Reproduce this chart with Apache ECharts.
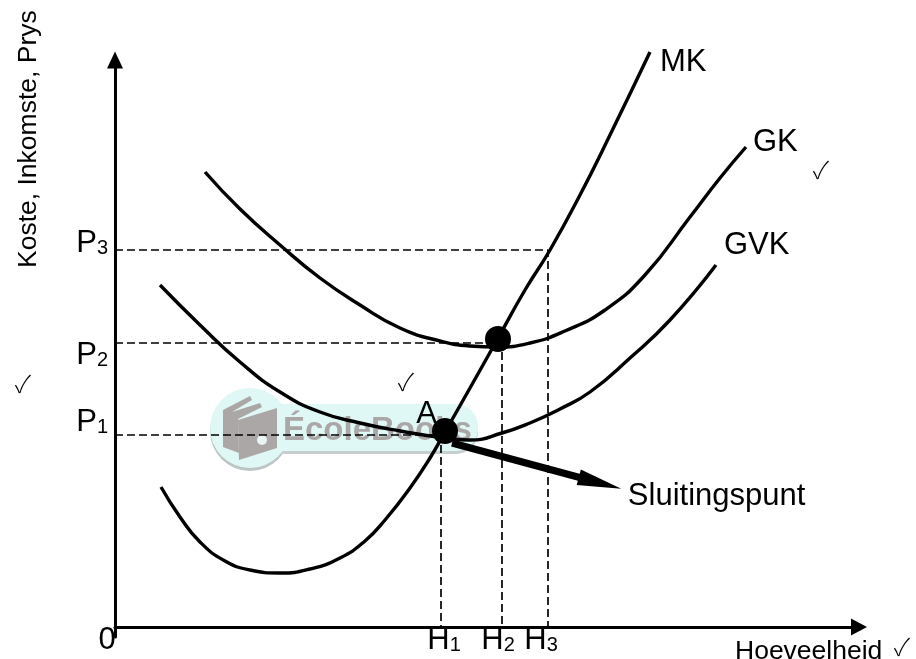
<!DOCTYPE html>
<html>
<head>
  <meta charset="utf-8">
  <title>Sluitingspunt</title>
  <script src="https://cdn.jsdelivr.net/npm/echarts@6/dist/echarts.min.js"></script>
  <style>html,body{margin:0;padding:0;background:#fff}</style>
</head>
<body>
<div id="chartmain" style="width:916px;height:659px;"></div>
<script>
  // curves, [quantity, price]
  var mk = [[46,140],[65,110],[85,85],[110,66],[135,57],[165,54],[195,58],[225,69],[250,86],[270,107],[295,139],[315,169],[330,195],[355,239],[382,287],[410,337],[435,377],[465,432],[495,492],[535,575]];
  var gk = [[90,455],[125,418],[165,382],[205,349],[245,322],[285,299],[325,286],[355,281],[382,280],[415,284],[450,296],[490,317],[530,352],[575,410],[605,449],[631,480]];
  var gvk = [[45,342],[85,302],[125,265],[165,235],[205,215],[245,204],[285,196],[330,189],[355,187],[387,194],[415,204],[445,218],[475,235],[515,269],[555,307],[601,362]];

  var hLevels = [326, 387, 433];
  var pLevels = [192, 284, 377];
  var hLabels = ['1', '2', '3'];
  var pLabels = ['1', '2', '3'];
  var dots = [[330, 196], [383, 288]];
  var shutArrow = [[337, 184], [485, 144]];

  // where the tick texts sit, they are not centred on the guides in the original
  var hLabelAt = [0, 329, 383, 426];
  var pLabelAt = [200, 267, 379];

  var font = '"Liberation Sans", Arial, sans-serif';

  function guide(i) {
    return {
      type: 'line', silent: true, showSymbol: false, z: 1,
      data: [[0, pLevels[i]], [hLevels[i], pLevels[i]], [hLevels[i], 0]],
      lineStyle: {color: '#000', width: 1.7, type: [8, 4]}
    };
  }
  function curve(name, data, offset) {
    return {
      type: 'line', name: name, data: data, smooth: true, showSymbol: false, clip: false, z: 3,
      lineStyle: {color: '#000', width: 3.4},
      endLabel: {show: true, formatter: name, offset: offset, color: '#000', fontFamily: font, fontSize: 31}
    };
  }
  function txt(text, x, y, size, extra) {
    var o = {type: 'text', x: x, y: y, z: 5, style: {text: text, fontFamily: font, fontSize: size, fill: '#000', textVerticalAlign: 'middle'}};
    for (var k in extra) o[k] = extra[k];
    return o;
  }
  function check(x, y) {
    return {type: 'text', x: x, y: y, z: 5, style: {text: '\u2713', fontFamily: '"Noto Sans CJK SC", "DejaVu Sans"', fontWeight: 300, fontSize: 24, fill: '#000', textAlign: 'center', textVerticalAlign: 'middle'}};
  }
  var grey = '#aca7a7';

  var option = {
    animation: false,
    backgroundColor: '#fff',
    grid: {left: 115, top: 60, width: 744, height: 577, outerBoundsMode: 'none'},
    xAxis: {
      type: 'value', min: 0, max: 744,
      splitLine: {show: false}, axisTick: {show: false},
      axisLine: {onZero: true, symbol: ['none', 'triangle'], symbolSize: [17, 16], lineStyle: {color: '#000', width: 3}},
      axisLabel: {
        showMinLabel: true, customValues: hLabelAt, margin: -9, color: '#000',
        formatter: function (v) {
          var i = hLabelAt.indexOf(v);
          if (i === 0) return '{h|0}{gap|}';
          return '{h|H}{s|' + hLabels[i - 1] + '}';
        },
        rich: {
          h: {fontFamily: font, fontSize: 31, lineHeight: 34, padding: [0, 0, 10, 0]},
          s: {fontFamily: font, fontSize: 20, lineHeight: 10},
          gap: {width: 16}
        }
      }
    },
    yAxis: {
      type: 'value', min: -10, max: 567,
      splitLine: {show: false}, axisTick: {show: false},
      axisLine: {symbol: ['none', 'triangle'], symbolSize: [16, 17], lineStyle: {color: '#000', width: 3}},
      axisLabel: {
        customValues: pLabelAt, margin: 7, color: '#000',
        formatter: function (v) {
          return '{p|P}{s|' + pLabels[pLabelAt.indexOf(v)] + '}';
        },
        rich: {
          p: {fontFamily: font, fontSize: 31, lineHeight: 34, padding: [0, 0, 10, 0]},
          s: {fontFamily: font, fontSize: 20, lineHeight: 10}
        }
      }
    },
    graphic: [
      // EcoleBooks watermark behind the chart
      {type: 'circle', z: -3, shape: {cx: 250, cy: 431, r: 40}, style: {fill: '#bcc4c4'}},
      {type: 'rect', z: -3, shape: {x: 250, y: 407, width: 228, height: 47, r: 22}, style: {fill: '#c6cfcf'}},
      {type: 'rect', z: -2, shape: {x: 250, y: 404, width: 228, height: 47, r: 22}, style: {fill: '#dff8f6'}},
      {type: 'circle', z: -2, shape: {cx: 250, cy: 428, r: 40}, style: {fill: '#dff8f6'}},
      {type: 'polygon', z: -1, shape: {points: [[223, 410], [250, 396], [252, 400], [232, 412], [260, 403], [262, 407], [238, 419], [239, 453], [223, 447]]}, style: {fill: grey}},
      {type: 'polygon', z: -1, shape: {points: [[238, 420], [277, 408], [277, 448], [239, 460]]}, style: {fill: grey}},
      {type: 'circle', z: -1, shape: {cx: 262, cy: 440, r: 5}, style: {fill: '#e8f5f4'}},
      {type: 'text', z: -1, x: 283, y: 431, style: {text: '\u00c9coleBooks', fontFamily: font, fontWeight: 'bold', fontSize: 33, fill: grey, textVerticalAlign: 'middle'}},

      txt('Koste, Inkomste, Prys', 29, 268, 26.5, {rotation: Math.PI / 2}),
      txt('Hoeveelheid', 735, 652, 26.5),
      check(902, 647),
      check(821, 170),
      check(406, 382),
      check(23, 384)
    ],
    series: [
      guide(0), guide(1), guide(2),
      curve('MK', mk, [2, 10]),
      curve('GK', gk, [-1, -5]),
      curve('GVK', gvk, [0, -20]),
      {
        type: 'lines', coordinateSystem: 'cartesian2d', z: 4, polyline: false,
        data: [{coords: shutArrow}],
        symbol: ['none', 'triangle'], symbolSize: [[1, 1], [16, 44]],
        lineStyle: {color: '#000', width: 7, opacity: 1},
        label: {show: true, position: 'end', formatter: 'Sluitingspunt', distance: 5, offset: [23, 12], color: '#000', fontFamily: font, fontSize: 31, align: 'left'}
      },
      {
        type: 'scatter', z: 5, symbolSize: 26, clip: false,
        itemStyle: {color: '#000', opacity: 1},
        data: [
          {value: dots[0], label: {show: true, formatter: 'A', position: 'left', offset: [10, -17], color: '#000', fontFamily: font, fontSize: 31}},
          {value: dots[1]}
        ]
      }
    ]
  };
  var myChart = echarts.init(document.getElementById('chartmain'));
  myChart.setOption(option);
</script>
</body>
</html>
